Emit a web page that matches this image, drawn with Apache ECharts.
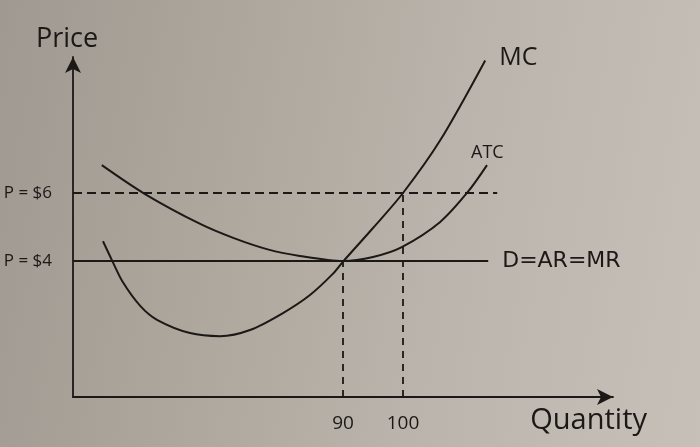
<!DOCTYPE html>
<html>
<head>
<meta charset="utf-8">
<script src="https://cdn.jsdelivr.net/npm/echarts@6/dist/echarts.min.js"></script>
<style>
html, body { margin: 0; padding: 0; }
#chart {
  width: 700px;
  height: 447px;
  background: linear-gradient(100deg, #9f9991 0%, #aea89f 35%, #bbb5ad 65%, #c6c0b8 100%);
}
</style>
</head>
<body>
<div id="chart"></div>
<script>
// marginal cost curve (quantity, price)
const mcQty = [50, 51.5, 53.3, 56.2, 59, 64.5, 69.5, 74.5, 80, 84.5, 88.3, 90, 95, 100, 106.2, 113.7]
const mcPrice = [4.58, 4.02, 3.38, 2.68, 2.27, 1.88, 1.79, 1.97, 2.47, 3.0, 3.62, 3.98, 4.97, 6.0, 7.55, 9.9]

// average total cost curve
const atcQty = [49.8, 57, 66.2, 71.7, 77.3, 82.8, 90, 95, 99.8, 106.2, 110.8, 114]
const atcPrice = [6.82, 5.97, 5.09, 4.68, 4.35, 4.15, 4.0, 4.12, 4.41, 5.15, 6.03, 6.82]

// demand = AR = MR
const demandQty = [45, 114.2]
const demandPrice = [4, 4]

// guide lines and tick labels
const priceLevels = [4, 6]
const priceLabels = ['P = $4', 'P = $6']
const qtyLevels = [90, 100]
const qtyLevelPrice = [4, 6]
const priceGuideEnd = 115.7

const ink = '#1c1816'
const font = 'Open Sans'

const chart = echarts.init(document.getElementById('chart'), null, { renderer: 'canvas' })

const pairs = (xs, ys) => xs.map((x, i) => [x, ys[i]])

const guides = []
// horizontal dashed line at P = $6
guides.push({
  type: 'line',
  data: [[demandQty[0], priceLevels[1]], [priceGuideEnd, priceLevels[1]]],
  symbol: 'none',
  silent: true,
  lineStyle: { color: ink, width: 1.8, type: [9, 5] }
})
// vertical dashed lines down to the quantity axis
qtyLevels.forEach((q, i) => {
  guides.push({
    type: 'line',
    data: [[q, 0], [q, qtyLevelPrice[i]]],
    symbol: 'none',
    silent: true,
    lineStyle: { color: ink, width: 1.8, type: [7, 6] }
  })
})

chart.setOption({
  animation: false,
  textStyle: { fontFamily: font, color: ink },
  grid: { left: 73, top: 57, width: 540, height: 340 },
  xAxis: {
    type: 'value',
    min: 45,
    max: 135,
    interval: 5,
    name: 'Quantity',
    nameLocation: 'end',
    nameGap: 34,
    nameTextStyle: {
      fontSize: 29,
      fontFamily: font,
      color: ink,
      align: 'right',
      verticalAlign: 'top',
      padding: [9, 0, 0, 0]
    },
    axisLine: {
      show: true,
      symbol: ['none', 'arrow'],
      symbolSize: [12, 16],
      lineStyle: { color: ink, width: 1.8 }
    },
    axisTick: { show: false },
    splitLine: { show: false },
    axisLabel: {
      margin: 17,
      fontSize: 19,
      fontFamily: font,
      color: ink,
      formatter: v => (qtyLevels.includes(v) ? String(v) : '')
    }
  },
  yAxis: {
    type: 'value',
    min: 0,
    max: 10,
    interval: 1,
    name: 'Price',
    nameLocation: 'end',
    nameGap: 4,
    nameTextStyle: {
      fontSize: 27,
      fontFamily: font,
      color: ink,
      align: 'center',
      padding: [0, 12, 0, 0]
    },
    axisLine: {
      show: true,
      symbol: ['none', 'arrow'],
      symbolSize: [12, 16],
      lineStyle: { color: ink, width: 1.8 }
    },
    axisTick: { show: false },
    splitLine: { show: false },
    axisLabel: {
      margin: 21,
      fontSize: 17,
      fontFamily: font,
      color: ink,
      formatter: v => {
        const i = priceLevels.indexOf(v)
        return i >= 0 ? priceLabels[i] : ''
      }
    }
  },
  series: [
    ...guides,
    {
      name: 'D=AR=MR',
      type: 'line',
      data: pairs(demandQty, demandPrice),
      symbol: 'none',
      lineStyle: { color: ink, width: 2 },
      endLabel: {
        show: true,
        formatter: 'D=AR=MR',
        distance: 14,
        fontSize: 22,
        fontFamily: 'DejaVu Sans',
        color: ink
      }
    },
    {
      name: 'ATC',
      type: 'line',
      smooth: 0.3,
      data: pairs(atcQty, atcPrice),
      symbol: 'none',
      lineStyle: { color: ink, width: 2 },
      endLabel: {
        show: true,
        formatter: 'ATC',
        offset: [-24, -12],
        fontSize: 18,
        fontFamily: font,
        color: ink
      }
    },
    {
      name: 'MC',
      type: 'line',
      smooth: 0.3,
      data: pairs(mcQty, mcPrice),
      symbol: 'none',
      lineStyle: { color: ink, width: 2 },
      endLabel: {
        show: true,
        formatter: 'MC',
        offset: [6, -3],
        fontSize: 25,
        fontFamily: font,
        color: ink
      }
    }
  ]
})
</script>
</body>
</html>
